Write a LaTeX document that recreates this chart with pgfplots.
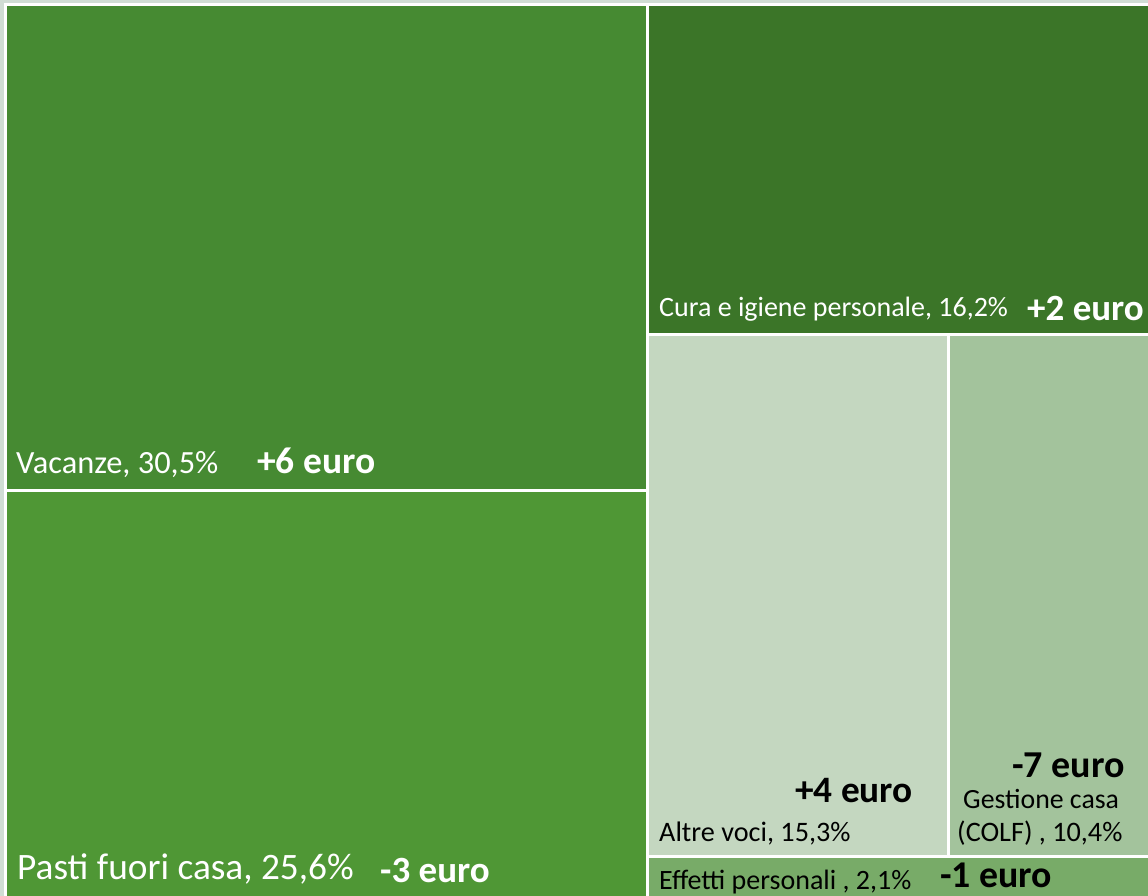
\documentclass[border=0pt]{standalone}
\usepackage{pgfplots}
\pgfplotsset{compat=1.18}
\usepackage{fontspec}
\setmainfont{Carlito}
\definecolor{bgc}{HTML}{D0DDD4}
\definecolor{cvac}{HTML}{468A32}
\definecolor{cpas}{HTML}{4F9735}
\definecolor{ccur}{HTML}{3B7528}
\definecolor{calt}{HTML}{C4D7C0}
\definecolor{cges}{HTML}{A3C39C}
\definecolor{ceff}{HTML}{78AB68}
\begin{document}
\begin{tikzpicture}
\begin{axis}[width=1148pt,height=896pt,scale only axis,
  xmin=0,xmax=1148,ymin=0,ymax=896,y dir=reverse,hide axis,clip=true]
% background and white frame
\addplot[fill=bgc,draw=none] coordinates {(0,0) (1148,0) (1148,896) (0,896)};
\addplot[fill=white,draw=none] coordinates {(4,3) (1148,3) (1148,896) (4,896)};
% tiles
\addplot[fill=cvac,draw=none] coordinates {(7,6) (646,6) (646,489) (7,489)};
\addplot[fill=cpas,draw=none] coordinates {(7,492) (646,492) (646,896) (7,896)};
\addplot[fill=ccur,draw=none] coordinates {(649,6) (1148,6) (1148,333) (649,333)};
\addplot[fill=calt,draw=none] coordinates {(649,336) (947,336) (947,855) (649,855)};
\addplot[fill=cges,draw=none] coordinates {(950,336) (1148,336) (1148,855) (950,855)};
\addplot[fill=ceff,draw=none] coordinates {(649,858) (1148,858) (1148,896) (649,896)};
% labels
\node[anchor=base west,inner sep=0,text=white,font=\fontsize{32.4}{36}\selectfont] at (axis cs:16,473) {Vacanze, 30,5\%};
\node[anchor=base west,inner sep=0,text=white,font=\fontsize{37.5}{42}\selectfont\bfseries] at (axis cs:257,473) {+6 euro};
\node[anchor=base west,inner sep=0,text=white,font=\fontsize{37.3}{42}\selectfont] at (axis cs:17,879) {Pasti fuori casa, 25,6\%};
\node[anchor=base west,inner sep=0,text=white,font=\fontsize{37}{42}\selectfont\bfseries] at (axis cs:380,882) {-3 euro};
\node[anchor=base west,inner sep=0,text=white,font=\fontsize{28}{32}\selectfont] at (axis cs:659,316) {Cura e igiene personale, 16,2\%};
\node[anchor=base west,inner sep=0,text=white,font=\fontsize{37}{42}\selectfont\bfseries] at (axis cs:1027,320) {+2 euro};
\node[anchor=base west,inner sep=0,text=black,font=\fontsize{37.3}{42}\selectfont\bfseries] at (axis cs:795,802) {+4 euro};
\node[anchor=base west,inner sep=0,text=black,font=\fontsize{28.2}{32}\selectfont] at (axis cs:659,841) {Altre voci, 15,3\%};
\node[anchor=base west,inner sep=0,text=black,font=\fontsize{38}{42}\selectfont\bfseries] at (axis cs:1012,777) {-7 euro};
\node[anchor=base west,inner sep=0,text=black,font=\fontsize{27.8}{32}\selectfont] at (axis cs:963,808) {Gestione casa};
\node[anchor=base west,inner sep=0,text=black,font=\fontsize{28.2}{32}\selectfont] at (axis cs:957,841) {(COLF) , 10,4\%};
\node[anchor=base west,inner sep=0,text=black,font=\fontsize{28}{32}\selectfont] at (axis cs:659,889) {Effetti personali , 2,1\%};
\node[anchor=base west,inner sep=0,text=black,font=\fontsize{37.8}{42}\selectfont\bfseries] at (axis cs:940,887) {-1 euro};
\end{axis}
\end{tikzpicture}
\end{document}
